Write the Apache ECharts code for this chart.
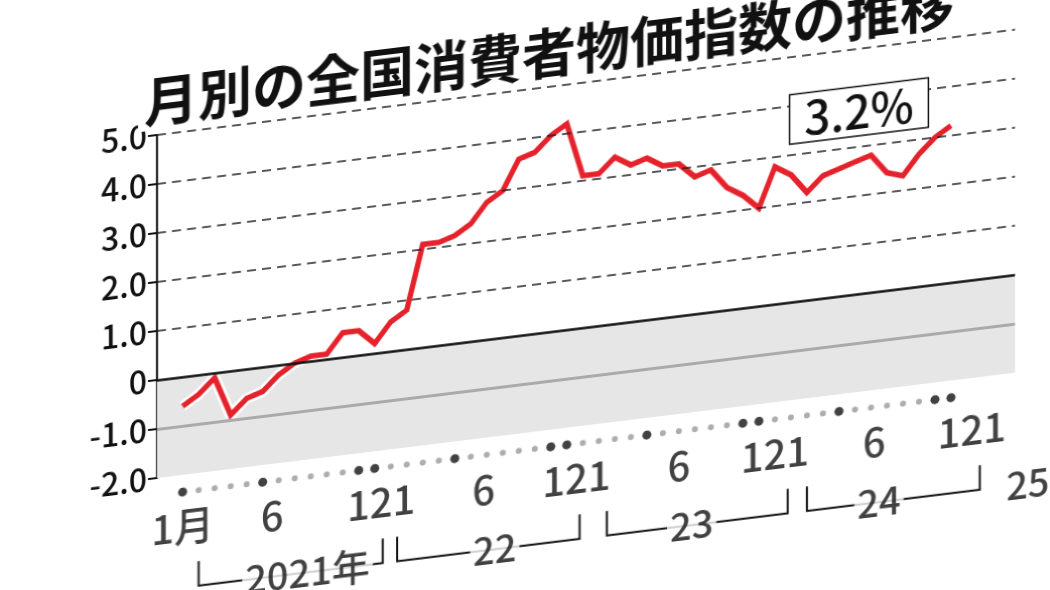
<!DOCTYPE html>
<html lang="ja">
<head>
<meta charset="UTF-8">
<script src="https://cdn.jsdelivr.net/npm/echarts@6/dist/echarts.min.js"></script>
<style>
  html, body { margin: 0; width: 1050px; height: 590px; overflow: hidden; background: #fff; }
  #chart { width: 1050px; height: 700px; transform: skewY(-7deg); transform-origin: 157px 378px; }
</style>
</head>
<body>
<div id="chart"></div>
<script>
// 前年同月比（生鮮食品を除く）2021年1月〜2025年1月
const months = Array.from({ length: 49 }, (_, i) => i);
const cpi = [
  -0.6, -0.4, -0.1, -0.9, -0.6, -0.5, -0.2, 0.0, 0.1, 0.1, 0.5, 0.5,
  0.2, 0.6, 0.8, 2.1, 2.1, 2.2, 2.4, 2.8, 3.0, 3.6, 3.7, 4.0,
  4.2, 3.1, 3.1, 3.4, 3.2, 3.3, 3.1, 3.1, 2.8, 2.9, 2.5, 2.3,
  2.0, 2.8, 2.6, 2.2, 2.5, 2.6, 2.7, 2.8, 2.4, 2.3, 2.7, 3.0,
  3.2
];
const yTicks = [5, 4, 3, 2, 1, 0, -1, -2];
const monthLabels = [
  [0, '1月'], [5.6, '6'], [12.4, '121'], [18.8, '6'], [24.6, '121'],
  [31, '6'], [37, '121'], [43.2, '6'], [49.3, '121']
];
const bigDots = [0, 5, 11, 12, 17, 23, 24, 29, 35, 36, 41, 47, 48];
const yearBrackets = [
  { from: 1, to: 12.5, label: '2021年', at: 7.8 },
  { from: 13.4, to: 24.8, label: '22', at: 19.5 },
  { from: 26.5, to: 37.8, label: '23', at: 31.8 },
  { from: 39, to: 49.8, label: '24', at: 43.5 }
];
const lastYear = [52.8, '25'];
const note = '※前年同月比、生鮮食品を除く';
const title = '月別の全国消費者物価指数の推移';

const FONT = '"Noto Sans CJK JP", "Noto Sans", sans-serif';
const JP = '"Noto Sans CJK JP", sans-serif';
const DOT_Y = -2.35, LBL_Y = -3.05, YEAR_Y = -4.3, TICK_TOP = -3.8;

const bracketSegs = yearBrackets.map(b => ({
  coords: [[b.from, TICK_TOP], [b.from, YEAR_Y], [b.to, YEAR_Y], [b.to, TICK_TOP]]
}));

const chart = echarts.init(document.getElementById('chart'));
chart.setOption({
  animation: false,
  title: {
    text: title, left: 138, top: 72, padding: [2, 6],
    backgroundColor: '#fff',
    textStyle: { fontFamily: JP, fontSize: 54, fontWeight: 'bold', color: '#111' }
  },
  grid: { left: 157, right: 35, top: 135, bottom: 222 },
  xAxis: { type: 'value', min: -1.6, max: 52, show: false },
  yAxis: {
    type: 'value', min: -2, max: 5, interval: 1,
    axisLine: { show: true, onZero: false, lineStyle: { color: '#111', width: 2 } },
    axisTick: { show: true, length: 9, lineStyle: { color: '#111', width: 2 } },
    splitLine: { show: false },
    axisLabel: {
      fontFamily: FONT, fontSize: 32, fontWeight: 500, color: '#111', margin: 10,
      formatter: v => v === 0 ? '0' : v.toFixed(1)
    }
  },
  series: [
    {
      type: 'line', data: [], silent: true,
      markArea: { silent: true, itemStyle: { color: '#e6e6e6' }, data: [[{ yAxis: -2 }, { yAxis: 0 }]] },
      markLine: {
        silent: true, symbol: 'none', label: { show: false },
        data: [
          ...yTicks.filter(v => v > 0).map(v => ({ yAxis: v, lineStyle: { type: [9, 6], color: '#222', width: 1.5 } })),
          { yAxis: 0, lineStyle: { type: 'solid', color: '#111', width: 2.5 } },
          { yAxis: -1, lineStyle: { type: 'solid', color: '#aaa', width: 3 } }
        ]
      }
    },
    {
      type: 'scatter', silent: true, symbolSize: 0,
      data: [[52.7, -1.62]],
      label: { show: true, position: 'left', formatter: note, fontFamily: JP, fontSize: 36, fontWeight: 500, color: '#111' }
    },
    {
      type: 'line', silent: true, symbol: 'none', z: 3,
      data: months.map(i => [i, cpi[i]]),
      lineStyle: { color: '#fff', width: 11 }
    },
    {
      type: 'line', silent: true, symbol: 'none', z: 4,
      data: months.map(i => [i, cpi[i]]),
      lineStyle: { color: '#e5222b', width: 5.5, join: 'miter' },
      markPoint: {
        symbol: 'rect', symbolSize: 1, itemStyle: { color: 'transparent' },
        data: [{
          coord: [48, cpi[48]],
          label: {
            show: true, formatter: '3.2%', offset: [-92, -26],
            fontFamily: FONT, fontSize: 46, fontWeight: 500, color: '#111',
            backgroundColor: '#fff', borderColor: '#111', borderWidth: 1.5,
            padding: [2, 14, 0, 14]
          }
        }]
      }
    },
    {
      type: 'scatter', silent: true, clip: false,
      data: months.map(i => [i, DOT_Y]),
      symbolSize: (v, p) => bigDots.includes(p.dataIndex) ? 9 : 6,
      itemStyle: { color: p => bigDots.includes(p.dataIndex) ? '#111' : '#999' }
    },
    {
      type: 'lines', coordinateSystem: 'cartesian2d', polyline: true, silent: true,
      clip: false, data: bracketSegs, lineStyle: { color: '#111', width: 2, opacity: 1 }
    },
    {
      type: 'scatter', silent: true, clip: false, symbolSize: 0, z: 6,
      data: monthLabels.map(d => [d[0], LBL_Y, d[1]]),
      label: { show: true, position: 'inside', formatter: p => p.data[2], fontFamily: FONT, fontSize: 40, fontWeight: 500, color: '#111' }
    },
    {
      type: 'scatter', silent: true, clip: false, symbolSize: 0, z: 6,
      data: yearBrackets.map(b => [b.at, YEAR_Y, b.label]).concat([[lastYear[0], YEAR_Y, lastYear[1]]]),
      label: {
        show: true, position: 'inside', formatter: p => p.data[2],
        fontFamily: FONT, fontSize: 38, fontWeight: 500, color: '#111', backgroundColor: '#fff', padding: [0, 3]
      }
    }
  ]
});
</script>
</body>
</html>
